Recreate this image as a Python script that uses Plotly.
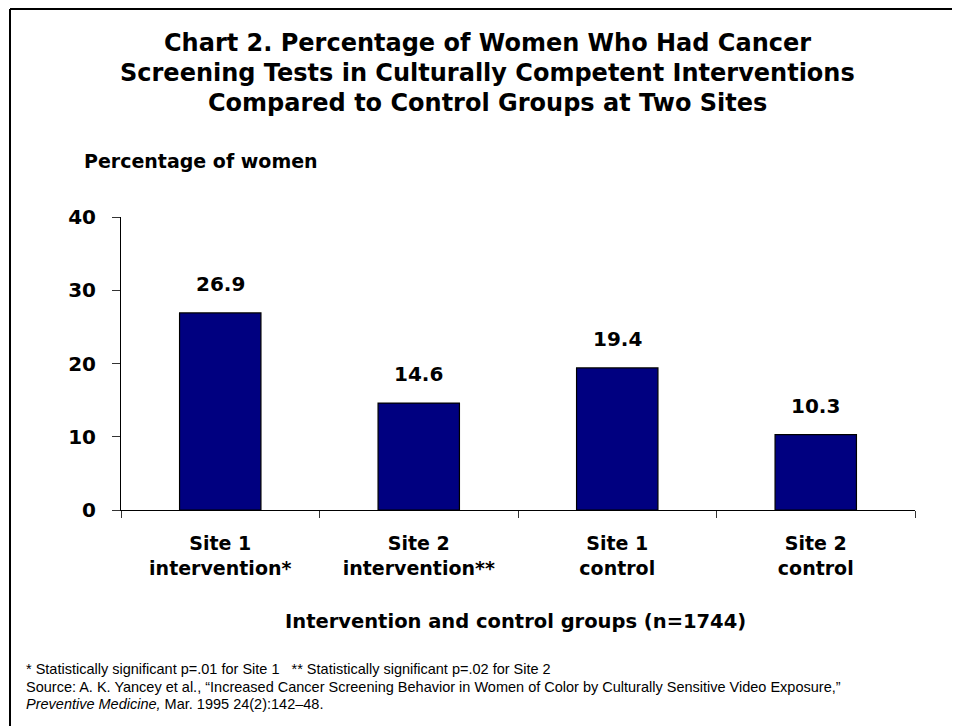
import plotly.graph_objects as go

categories = ["Site 1<br>intervention*", "Site 2<br>intervention**", "Site 1<br>control", "Site 2<br>control"]
values = [26.9, 14.6, 19.4, 10.3]
value_labels = ["26.9", "14.6", "19.4", "10.3"]
y_ticks = [0, 10, 20, 30, 40]
title_lines = [
    "Chart 2. Percentage of Women Who Had Cancer",
    "Screening Tests in Culturally Competent Interventions",
    "Compared to Control Groups at Two Sites",
]
y_title = "Percentage of women"
x_title = "Intervention and control groups (n=1744)"
notes = [
    "* Statistically significant p=.01 for Site 1   ** Statistically significant p=.02 for Site 2",
    "Source: A. K. Yancey et al., \u201cIncreased Cancer Screening Behavior in Women of Color by Culturally Sensitive Video Exposure,\u201d",
    "<i>Preventive Medicine,</i> Mar. 1995 24(2):142\u201348.",
]

# page has an 8px body margin: figure pixel = window pixel - 8
OFF = 8
W, H = 952, 718
L, R, T, B = 113, 45, 209, 216
PW = W - L - R
PH = H - T - B


def px_x(x):
    return (x - OFF - L) / PW


def px_y(y):
    return (H - B - (y - OFF)) / PH


HEAVY = "DejaVu Sans"
BOLD = dict(family=HEAVY, color="black", weight="bold")

fig = go.Figure()
fig.add_trace(go.Bar(
    x=categories, y=values,
    marker=dict(color="#000080", line=dict(color="black", width=1.2)),
    width=0.41,
    hoverinfo="skip",
))

annotations = []
for c, v, t in zip(categories, values, value_labels):
    annotations.append(dict(x=c, y=v, xref="x", yref="y", text=t, showarrow=False,
                            yanchor="bottom", yshift=15, font=dict(size=20, **BOLD)))

for line, yc in zip(title_lines, [43, 73, 103]):
    annotations.append(dict(
        xref="paper", yref="paper", x=px_x(487), y=px_y(yc), xanchor="center", yanchor="middle",
        text=line, showarrow=False, font=dict(size=24, **BOLD)))

annotations.append(dict(
    xref="paper", yref="paper", x=px_x(82), y=px_y(161), xanchor="left", yanchor="middle",
    text=y_title, showarrow=False, font=dict(size=19, **BOLD)))
annotations.append(dict(
    xref="paper", yref="paper", x=px_x(515), y=px_y(621), xanchor="center", yanchor="middle",
    text=x_title, showarrow=False, font=dict(size=19.5, **BOLD)))

for line, yc in zip(notes, [669, 686.5, 704]):
    annotations.append(dict(
        xref="paper", yref="paper", x=px_x(24), y=px_y(yc), xanchor="left", yanchor="middle",
        text=line, showarrow=False, font=dict(size=14.5, family="Liberation Sans", color="black")))

shapes = [
    dict(type="line", xref="paper", yref="paper", x0=px_x(10), x1=px_x(980), y0=px_y(9), y1=px_y(9),
         line=dict(color="black", width=2)),
    dict(type="line", xref="paper", yref="paper", x0=px_x(10), x1=px_x(10), y0=px_y(9), y1=px_y(740),
         line=dict(color="black", width=2)),
]

fig.update_layout(
    width=W, height=H,
    margin=dict(l=L, r=R, t=T, b=B, pad=0),
    paper_bgcolor="white", plot_bgcolor="white",
    showlegend=False,
    annotations=annotations,
    shapes=shapes,
    xaxis=dict(
        showline=True, linecolor="black", linewidth=1,
        ticks="outside", tickson="boundaries", ticklen=7, tickcolor="#333", tickwidth=1,
        tickfont=dict(size=19, **BOLD), ticklabelstandoff=16,
        showgrid=False, zeroline=False,
    ),
    yaxis=dict(
        range=[0, 40], tickvals=y_ticks, ticktext=[str(v) for v in y_ticks],
        showline=True, linecolor="black", linewidth=1,
        ticks="outside", ticklen=8, tickcolor="#333", tickwidth=1,
        tickfont=dict(size=20, **BOLD), ticklabelstandoff=12,
        showgrid=False, zeroline=False,
    ),
)

fig.write_html("out.html")
